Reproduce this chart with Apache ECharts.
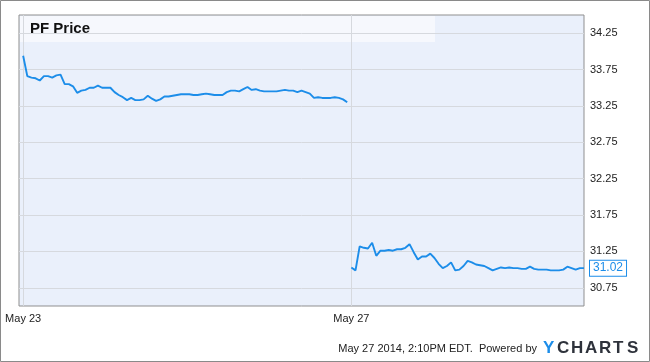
<!DOCTYPE html>
<html>
<head>
<meta charset="utf-8">
<script src="https://cdn.jsdelivr.net/npm/echarts@6/dist/echarts.min.js"></script>
<style>html,body{margin:0;padding:0;background:#fff;}#c{width:650px;height:362px;}</style>
</head>
<body>
<div id="c"></div>
<script>
// ---- data (5-minute samples) ----
const dayLabels = ['May 23', 'May 27'];
const sessionStart = '09:30';
const day1Values = [
  33.94, 33.66, 33.64, 33.63, 33.60, 33.66, 33.66, 33.64, 33.67, 33.68,
  33.55, 33.55, 33.52, 33.43, 33.46, 33.47, 33.50, 33.50, 33.53, 33.50,
  33.50, 33.50, 33.44, 33.40, 33.37, 33.33, 33.36, 33.33, 33.33, 33.34,
  33.39, 33.35, 33.32, 33.34, 33.38, 33.38, 33.39, 33.40, 33.41, 33.41,
  33.41, 33.40, 33.40, 33.41, 33.42, 33.41, 33.40, 33.40, 33.40, 33.44,
  33.46, 33.46, 33.45, 33.48, 33.51, 33.47, 33.48, 33.46, 33.45, 33.45,
  33.45, 33.45, 33.46, 33.47, 33.46, 33.46, 33.44, 33.46, 33.44, 33.42,
  33.36, 33.37, 33.36, 33.36, 33.36, 33.37, 33.36, 33.34, 33.30
];
const day2Values = [
  31.03, 30.99, 31.32, 31.30, 31.29, 31.37, 31.19, 31.26, 31.26, 31.27,
  31.26, 31.28, 31.28, 31.30, 31.35, 31.24, 31.14, 31.18, 31.18, 31.22,
  31.16, 31.08, 31.02, 31.05, 31.10, 30.99, 31.00, 31.05, 31.12, 31.10,
  31.07, 31.06, 31.05, 31.02, 30.99, 31.01, 31.03, 31.02, 31.03, 31.02,
  31.02, 31.01, 31.01, 31.04, 31.01, 31.00, 31.00, 31.00, 30.99, 30.99,
  30.99, 31.00, 31.04, 31.02, 31.00, 31.02, 31.02
];
const yTickLabels = ['30.75','31.25','31.75','32.25','32.75','33.25','33.75','34.25'];
const titleText = 'PF Price';
const footerText = 'May 27 2014, 2:10PM EDT.  Powered by';
const logoText = 'YCHARTS';

// ---- build categories ----
function timeLabel(k) {
  const [h, m] = sessionStart.split(':').map(Number);
  const t = h * 60 + m + k * 5;
  const hh = String(Math.floor(t / 60)).padStart(2, '0');
  const mm = String(t % 60).padStart(2, '0');
  return hh + ':' + mm;
}
const categories = [''];
day1Values.forEach((v, k) => categories.push(dayLabels[0] + ' ' + timeLabel(k)));
day2Values.forEach((v, k) => categories.push(dayLabels[1] + ' ' + timeLabel(k)));
const s1 = [null].concat(day1Values, day2Values.map(() => null));
const s2 = [null].concat(day1Values.map(() => null), day2Values);
const isDayStart = (idx) => categories[idx] && categories[idx].endsWith(sessionStart);

const blue = '#1c8de9';
const chart = echarts.init(document.getElementById('c'), null, {renderer: 'canvas'});

const logoGraphics = logoText.split('').map((ch, i) => ({
  type: 'text', left: 543 + i * 14, top: 340,
  style: { text: ch, fill: i === 0 ? blue : '#2e323b', font: 'bold 17px "Liberation Sans", Arial, sans-serif' }
}));

chart.setOption({
  animation: false,
  grid: { left: 19, right: 66, top: 15, bottom: 56, show: true, backgroundColor: '#eaf0fb', borderColor: '#8f8f8f', borderWidth: 1 },
  xAxis: {
    type: 'category', data: categories, boundaryGap: false,
    axisLine: { show: false }, axisTick: { show: false },
    axisLabel: {
      interval: 0, margin: 7, color: '#222', fontSize: 11, fontFamily: '"Liberation Sans", Arial, sans-serif',
      formatter: (val, idx) => isDayStart(idx) ? val.slice(0, val.length - 6) : ''
    },
    splitLine: { show: true, interval: (idx) => isDayStart(idx), lineStyle: { color: '#d6d9de', width: 1 } }
  },
  yAxis: {
    type: 'value', position: 'right', min: 30.5, max: 34.5, interval: 0.25, scale: true,
    axisLine: { show: false }, axisTick: { show: false },
    axisLabel: {
      margin: 6, color: '#222', fontSize: 11, fontFamily: '"Liberation Sans", Arial, sans-serif',
      formatter: (v) => { const s = v.toFixed(2); return yTickLabels.indexOf(s) >= 0 ? s : ''; }
    },
    splitLine: { show: true, lineStyle: { color: ['rgba(0,0,0,0)', '#d6d9de'], width: 1 } }
  },
  series: [
    { type: 'line', data: s1, showSymbol: false, symbol: 'none', lineStyle: { color: blue, width: 1.9 }, connectNulls: false },
    { type: 'line', data: s2, showSymbol: false, symbol: 'none', lineStyle: { color: blue, width: 1.9 }, connectNulls: false,
      endLabel: { show: true, distance: 6, formatter: (p) => p.value.toFixed(2), color: blue, fontSize: 12,
        fontFamily: '"Liberation Sans", Arial, sans-serif', backgroundColor: '#fff', borderColor: blue, borderWidth: 1, padding: [2, 3, 1, 3] } }
  ],
  graphic: [
    { type: 'rect', shape: { x: 0.5, y: 0.5, width: 649, height: 361 }, style: { fill: 'none', stroke: '#8a8a8a', lineWidth: 1 }, silent: true },
    { type: 'rect', shape: { x: 20, y: 16, width: 415, height: 26 }, style: { fill: 'rgba(255,255,255,0.55)' }, silent: true },
    { type: 'text', left: 30, top: 21, style: { text: titleText, fill: '#111', font: 'bold 15px "Liberation Sans", Arial, sans-serif' } },
    { type: 'text', right: 113, top: 343, style: { text: footerText, fill: '#222', font: '11px "Liberation Sans", Arial, sans-serif' } }
  ].concat(logoGraphics)
});
</script>
</body>
</html>
